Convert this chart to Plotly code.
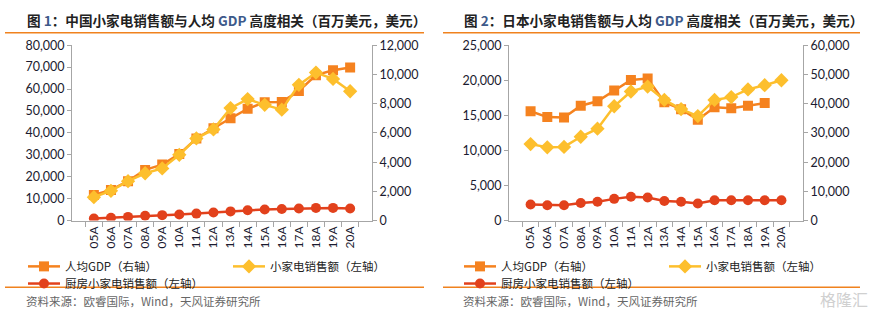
import plotly.graph_objects as go

W, H = 876, 322

categories = ["05A", "06A", "07A", "08A", "09A", "10A", "11A", "12A",
              "13A", "14A", "15A", "16A", "17A", "18A", "19A", "20A"]

# China (chart 1)
cn_gdp = [1760, 2100, 2700, 3470, 3830, 4550, 5620, 6320,
          7000, 7650, 8100, 8120, 8870, 9950, 10280, 10480]
cn_small = [10700, 13600, 18000, 21600, 23800, 30000, 37500, 41600,
            51300, 55400, 52800, 50600, 61900, 67500, 64600, 59000]
cn_kitchen = [1000, 1300, 1700, 2200, 2500, 2800, 3200, 3700,
              4200, 4700, 5100, 5300, 5500, 5800, 5800, 5500]

# Japan (chart 2)
jp_gdp = [37400, 35400, 35300, 39300, 40800, 44500, 48100, 48600,
          40500, 38100, 34500, 38800, 38400, 39300, 40200, None]
jp_small = [10900, 10450, 10500, 11950, 13100, 16300, 18400, 19100,
            17200, 15900, 14900, 17200, 17600, 18700, 19300, 20000]
jp_kitchen = [2300, 2200, 2200, 2500, 2700, 3100, 3400, 3300,
              2800, 2700, 2450, 2900, 2900, 2900, 2900, 2900]

titles = ["图 <span style='color:#3d5a8a'>1</span>：中国小家电销售额与人均 <span style='color:#3d5a8a'>GDP</span> 高度相关（百万美元，美元）",
          "图 <span style='color:#3d5a8a'>2</span>：日本小家电销售额与人均 <span style='color:#3d5a8a'>GDP</span> 高度相关（百万美元，美元）"]
source = "资料来源：欧睿国际，Wind，天风证券研究所"
names = ["人均GDP（右轴）", "小家电销售额（左轴）", "厨房小家电销售额（左轴）"]

C_GDP = "#F5821F"
C_SMALL = "#FDBF2D"
C_KIT = "#E2411C"
CJK = "Noto Sans CJK SC"
NUM = "Lato"

fig = go.Figure()

def px_x(p):
    return p / W

def px_y(p):
    return 1 - p / H

panels = [
    dict(x="x", ygdp="y", ysales="y2", gdp=cn_gdp, small=cn_small, kit=cn_kitchen,
         legs=["legend", "legend2", "legend3"]),
    dict(x="x2", ygdp="y3", ysales="y4", gdp=jp_gdp, small=jp_small, kit=jp_kitchen,
         legs=["legend4", "legend5", "legend6"]),
]

for p in panels:
    fig.add_trace(go.Scatter(x=categories, y=p["gdp"], name=names[0], xaxis=p["x"], yaxis=p["ygdp"],
                             mode="lines+markers", line=dict(color=C_GDP, width=2.5),
                             marker=dict(symbol="square", size=10, color=C_GDP),
                             legend=p["legs"][0], connectgaps=False))
    fig.add_trace(go.Scatter(x=categories, y=p["kit"], name=names[2], xaxis=p["x"], yaxis=p["ysales"],
                             mode="lines+markers", line=dict(color=C_KIT, width=2.5),
                             marker=dict(symbol="circle", size=10, color=C_KIT),
                             legend=p["legs"][2]))
    fig.add_trace(go.Scatter(x=categories, y=p["small"], name=names[1], xaxis=p["x"], yaxis=p["ysales"],
                             mode="lines+markers", line=dict(color=C_SMALL, width=2.5),
                             marker=dict(symbol="diamond", size=11, color=C_SMALL),
                             legend=p["legs"][1]))

ydom = [px_y(223), px_y(39)]
axis_common = dict(showgrid=False, zeroline=False, showline=True, linecolor="#A6A6A6", linewidth=1,
                   ticks="outside", ticklen=4, tickcolor="#A6A6A6",
                   tickfont=dict(family=NUM, size=12.5, color="#1b1b2f"))
xcommon = dict(axis_common, type="category", tickangle=-90, tickson="boundaries", ticklen=5,
               tickfont=dict(family=NUM, size=12, color="#1b1b2f"))

fig.update_layout(
    width=W, height=H, margin=dict(l=0, r=0, t=0, b=0),
    paper_bgcolor="white", plot_bgcolor="white", showlegend=True,
    xaxis=dict(xcommon, domain=[px_x(72), px_x(372)], anchor="y"),
    yaxis=dict(axis_common, domain=ydom, anchor="x", side="right", range=[0, 12000], dtick=2000,
               tickformat=",d"),
    yaxis2=dict(axis_common, overlaying="y", anchor="x", side="left", range=[0, 80000], dtick=10000,
                tickformat=",d"),
    xaxis2=dict(xcommon, domain=[px_x(509), px_x(803)], anchor="y3"),
    yaxis3=dict(axis_common, domain=ydom, anchor="x2", side="right", range=[0, 60000], dtick=10000,
                tickformat=",d"),
    yaxis4=dict(axis_common, overlaying="y3", anchor="x2", side="left", range=[0, 25000], dtick=5000,
                tickformat=",d"),
)

legend_pos = [(28, 266), (233, 266), (28, 284), (464, 266), (669, 266), (464, 284)]
leg_keys = ["legend", "legend2", "legend3", "legend4", "legend5", "legend6"]
for key, (lx, ly) in zip(leg_keys, legend_pos):
    fig.update_layout({key: dict(x=px_x(lx - 5), y=px_y(ly + 5), xanchor="left", yanchor="middle",
                                 orientation="h", bgcolor="rgba(0,0,0,0)", borderwidth=0,
                                 itemwidth=32,
                                 font=dict(family=CJK, size=11.5, color="#222222"))})

annotations = []
shapes = []
for i, (tx, lx0, lx1) in enumerate([(15, 5, 424), (452, 443, 860)]):
    annotations.append(dict(text="<b>" + titles[i] + "</b>", x=px_x(tx + 10), y=px_y(13), xref="paper", yref="paper",
                            xanchor="left", yanchor="middle", showarrow=False,
                            font=dict(family=CJK, size=13.6, color="#222222")))
    annotations.append(dict(text=source, x=px_x(tx + 9), y=px_y(307), xref="paper", yref="paper",
                            xanchor="left", yanchor="middle", showarrow=False,
                            font=dict(family=CJK, size=11.5, color="#666666")))
    for yy in (26, 293):
        shapes.append(dict(type="line", xref="paper", yref="paper", x0=px_x(lx0), x1=px_x(lx1),
                           y0=px_y(yy), y1=px_y(yy), line=dict(color="#F0821E", width=1.5)))

annotations.append(dict(text="格隆汇", x=px_x(870), y=px_y(305), xref="paper", yref="paper",
                        xanchor="right", yanchor="middle", showarrow=False,
                        font=dict(family=CJK, size=16, color="#d0d0d0")))

fig.update_layout(annotations=annotations, shapes=shapes)

fig.write_html("out.html")
